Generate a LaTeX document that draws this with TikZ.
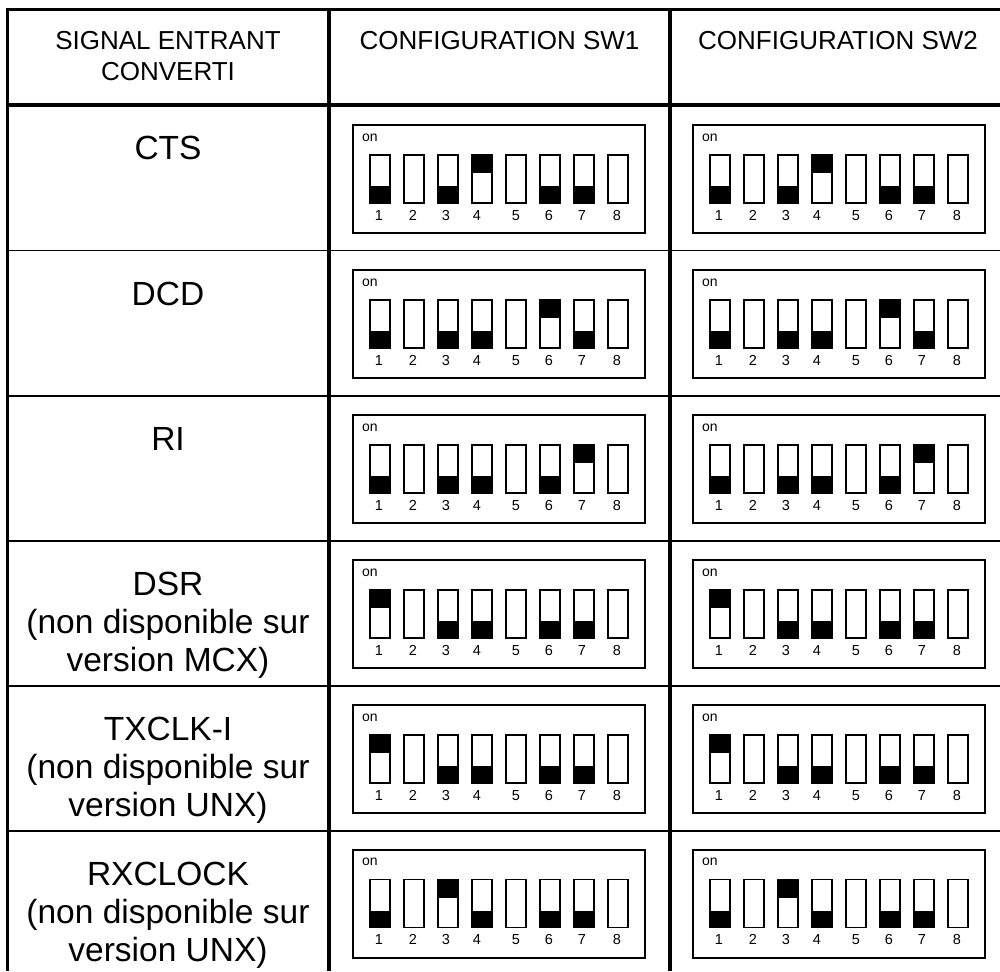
\documentclass[tikz,border=0pt]{standalone}
\usepackage{fontspec}
\setmainfont{Liberation Sans}
\begin{document}
\begin{tikzpicture}[x=1pt,y=-1pt,
  thickrule/.style={line width=3.6pt},
  thinrule/.style={line width=1.3pt},
  headtext/.style={font=\fontsize{26}{31}\selectfont, align=center, inner sep=0pt, anchor=north},
  bodytext/.style={font=\fontsize{33.5}{38}\selectfont, align=center, inner sep=0pt, anchor=north},
  dipframe/.style={line width=2pt},
  swframe/.style={line width=1.8pt},
  onlbl/.style={font=\fontsize{14}{16}\selectfont, inner sep=0pt, anchor=base west},
  numlbl/.style={font=\fontsize{14.5}{16}\selectfont, inner sep=0pt, anchor=base}]
\useasboundingbox (0,0) rectangle (1000,971);

% table rules
\draw[line width=3.4pt] (5.8,9.7) -- (1000,9.7);
\draw[line width=3.4pt] (7.5,8) -- (7.5,971);
\draw[thickrule] (329,8) -- (329,971);
\draw[thickrule] (670,8) -- (670,971);
\draw[thickrule] (7.5,105) -- (1000,105);
\foreach \ry in {250.5,396,541,686,831}
  \draw[thinrule] (7.5,\ry) -- (1000,\ry);

% header
\node[headtext] (h1) at (168,31) {SIGNAL ENTRANT\\CONVERTI};
\node[headtext] (h2) at (499.5,31) {CONFIGURATION SW1};
\node[headtext] (h3) at (838,31) {CONFIGURATION SW2};

% row labels
\node[bodytext] (r1) at (168,136) {CTS};
\node[bodytext] (r2) at (168,281.5) {DCD};
\node[bodytext] (r3) at (168,427) {RI};
\node[bodytext] (r4) at (168,572) {DSR\\(non disponible sur\\version MCX)};
\node[bodytext] (r5) at (168,717) {TXCLK-I\\(non disponible sur\\version UNX)};
\node[bodytext] (r6) at (168,862) {RXCLOCK\\(non disponible sur\\version UNX)};

% dip switches
\newcommand\dipbox[4]{%
  \draw[dipframe] (#1,#2) rectangle ++(292,108);
  \node[onlbl] (on-#4) at (#1+9,#2+16) {on};
  \foreach \s [count=\i] in #3 {
    \pgfmathsetmacro\cx{#1+27+34*(\i-1)}
    \if d\s \fill (\cx-10,#2+61) rectangle (\cx+10,#2+78); \fi
    \if u\s \fill (\cx-10,#2+30) rectangle (\cx+10,#2+48); \fi
    \draw[swframe] (\cx-10,#2+30) rectangle (\cx+10,#2+78);
  }
  \foreach \n/\dx in {1/26,2/60,3/93,4/124,5/163,6/196,7/229,8/264}
    \node[numlbl] (n-#4-\n) at (#1+\dx,#2+95) {\n};
}
\foreach \by/\st/\rn in {125/{d,n,d,u,n,d,d,n}/a, 270/{d,n,d,d,n,u,d,n}/b, 415/{d,n,d,d,n,d,u,n}/c, 560/{u,n,d,d,n,d,d,n}/d, 705/{u,n,d,d,n,d,d,n}/e, 849.5/{d,n,u,d,n,d,d,n}/f}{
  \dipbox{353}{\by}{\st}{sw1\rn}
  \dipbox{693}{\by}{\st}{sw2\rn}
}
\end{tikzpicture}
\end{document}
